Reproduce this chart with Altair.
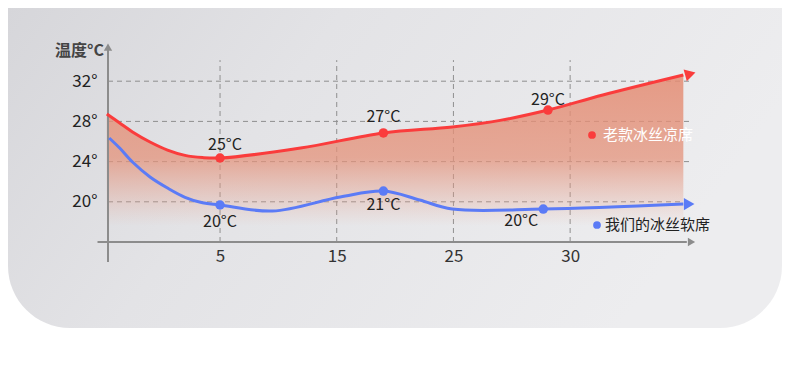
import json
import altair as alt
import pandas as pd

# ---------------- data ----------------
red_x = [0.03, 0.14, 0.25, 0.40, 0.55, 0.70, 0.85, 1.00, 1.69, 2.40, 2.99, 3.40, 3.81, 4.28, 4.97]
red_y = [28.74, 27.84, 26.95, 25.95, 25.15, 24.62, 24.40, 24.36, 25.35, 26.85, 27.44, 28.10, 29.13, 30.63, 32.62]
blue_x = [0.05, 0.14, 0.25, 0.40, 0.55, 0.70, 0.85, 1.00, 1.45, 2.03, 2.40, 2.71, 2.99, 3.77, 4.97]
blue_y = [26.35, 25.35, 23.96, 22.47, 21.37, 20.45, 19.90, 19.68, 19.08, 20.48, 21.07, 20.18, 19.28, 19.28, 19.78]
red_mark_x = [1.00, 2.40, 3.81]
red_mark_y = [24.36, 26.85, 29.13]
red_mark_text = ["25°C", "27°C", "29°C"]
blue_mark_x = [1.00, 2.40, 3.77]
blue_mark_y = [19.68, 21.07, 19.28]
blue_mark_text = ["20°C", "21°C", "20°C"]
x_tick_pos = [1, 2, 3, 4]
x_tick_labels = ["5", "15", "25", "30"]
y_ticks = [20, 24, 28, 32]
series_names = ["老款冰丝凉席", "我们的冰丝软席"]
y_title = "温度°C"

# ---------------- style ----------------
RED = "#fa3c3c"
BLUE = "#5b7bf6"
GRAY = "#8c8c8c"
FONT = "Noto Sans CJK SC"
TXT = "#222222"
INTERP = "catmull-rom"

red_df = pd.DataFrame({"x": red_x, "y": red_y})
blue_df = pd.DataFrame({"x": blue_x, "y": blue_y})
red_pts = pd.DataFrame({"x": red_mark_x, "y": red_mark_y, "t": red_mark_text})
blue_pts = pd.DataFrame({"x": blue_mark_x, "y": blue_mark_y, "t": blue_mark_text})
one = pd.DataFrame({"a": [0]})

xs = alt.Scale(domain=[0.04, 5.07], nice=False, zero=False)
ys = alt.Scale(domain=[16, 36], nice=False, zero=False)

x_axis = alt.Axis(
    values=x_tick_pos,
    labelExpr=json.dumps([""] + x_tick_labels).replace('"', "'") + "[datum.value]",
    domain=False, ticks=False, grid=False, title=None, zindex=5,
    labelFont=FONT, labelFontSize=17, labelColor="#333333", labelPadding=6,
)
y_axis = alt.Axis(
    values=y_ticks,
    labelExpr="datum.value + '°'",
    domain=False, ticks=False, grid=False, zindex=5,
    labelFont=FONT, labelFontSize=17, labelColor=TXT, labelPadding=11,
    title=y_title, titleAngle=0, titleX=-29, titleY=9, titleAlign="center",
    titleBaseline="middle", titleFont=FONT, titleFontSize=16, titleFontWeight="bold",
    titleColor="#444444",
)
X = lambda f="x": alt.X(f"{f}:Q", scale=xs, axis=x_axis)
Y = lambda f="y": alt.Y(f"{f}:Q", scale=ys, axis=y_axis)
XD = lambda v: alt.XDatum(v, scale=xs, axis=x_axis)
YD = lambda v: alt.YDatum(v, scale=ys, axis=y_axis)

# background card
bg = alt.Chart(one).mark_rect(
    cornerRadiusBottomLeft=62, cornerRadiusBottomRight=62,
    color=alt.LinearGradient(
        gradient="linear", x1=0, y1=0, x2=1, y2=0.3,
        stops=[alt.GradientStop(color="#d6d6da", offset=0),
               alt.GradientStop(color="#e3e3e6", offset=0.4),
               alt.GradientStop(color="#ededef", offset=1)]),
).encode(x=alt.value(-100), x2=alt.value(674), y=alt.value(-33), y2=alt.value(287))

# grid
hgrid = alt.Chart(pd.DataFrame({"y": y_ticks})).mark_rule(
    color="#8f8f8f", strokeDash=[5, 4], strokeWidth=1
).encode(x=XD(0.04), x2=alt.datum(5.03), y=Y())
vgrid = alt.Chart(pd.DataFrame({"x": x_tick_pos})).mark_rule(
    color="#8f8f8f", strokeDash=[5, 4], strokeWidth=1
).encode(x=X(), y=YD(16), y2=alt.datum(34.1))

# axes lines + arrows
yaxis_line = alt.Chart(one).mark_rule(color=GRAY, strokeWidth=2).encode(
    x=XD(0.04), y=YD(14.0), y2=alt.datum(35.2))
xaxis_line = alt.Chart(one).mark_rule(color=GRAY, strokeWidth=2).encode(
    x=XD(-0.05), x2=alt.datum(5.0), y=YD(16))
yarrow = alt.Chart(one).mark_point(shape="triangle-up", filled=True, color=GRAY, size=70, opacity=1).encode(
    x=XD(0.04), y=YD(35.4))
xarrow = alt.Chart(one).mark_point(shape="triangle-right", filled=True, color=GRAY, size=70, opacity=1).encode(
    x=XD(5.04), y=YD(16))

# band fill
band = alt.Chart(red_df).mark_area(
    interpolate=INTERP,
    color=alt.LinearGradient(
        gradient="linear", x1=0, y1=0, x2=0, y2=1,
        stops=[alt.GradientStop(color="rgba(228,140,115,0.85)", offset=0),
               alt.GradientStop(color="rgba(228,146,122,0.74)", offset=0.55),
               alt.GradientStop(color="rgba(230,160,140,0.0)", offset=1)]),
).encode(x=X(), y=Y(), y2=alt.datum(17.6))

red_line = alt.Chart(red_df).mark_line(interpolate=INTERP, color=RED, strokeWidth=3).encode(x=X(), y=Y())
blue_line = alt.Chart(blue_df).mark_line(interpolate=INTERP, color=BLUE, strokeWidth=3).encode(x=X(), y=Y())

red_arrow = alt.Chart(one).mark_point(shape="triangle-right", filled=True, color=RED, size=150,
                                      angle=345, opacity=1).encode(x=XD(5.03), y=YD(32.72))
blue_arrow = alt.Chart(one).mark_point(shape="triangle-right", filled=True, color=BLUE, size=150,
                                       opacity=1).encode(x=XD(5.02), y=YD(19.78))

red_dots = alt.Chart(red_pts).mark_circle(color=RED, size=90, opacity=1).encode(x=X(), y=Y())
blue_dots = alt.Chart(blue_pts).mark_circle(color=BLUE, size=90, opacity=1).encode(x=X(), y=Y())

red_offsets = [(5, -13), (0, -16), (0, -10)]
blue_offsets = [(0, 17), (0, 14), (-22, 12)]
labels = []
for df, offs in ((red_pts, red_offsets), (blue_pts, blue_offsets)):
    for i, (dx, dy) in enumerate(offs):
        labels.append(
            alt.Chart(df.iloc[[i]]).mark_text(
                dx=dx, dy=dy, font=FONT, fontSize=16, color=TXT, baseline="middle", align="center"
            ).encode(x=X(), y=Y(), text="t:N")
        )

# legend
leg_red_dot = alt.Chart(one).mark_circle(color=RED, size=60, opacity=1).encode(
    x=alt.value(484), y=alt.value(94))
leg_red_txt = alt.Chart(pd.DataFrame({"t": [series_names[0]]})).mark_text(
    font=FONT, fontSize=15, color="white", align="left", baseline="middle").encode(
    x=alt.value(495), y=alt.value(94), text="t:N")
leg_blue_dot = alt.Chart(one).mark_circle(color=BLUE, size=60, opacity=1).encode(
    x=alt.value(489), y=alt.value(184))
leg_blue_txt = alt.Chart(pd.DataFrame({"t": [series_names[1]]})).mark_text(
    font=FONT, fontSize=15, color=TXT, align="left", baseline="middle").encode(
    x=alt.value(497), y=alt.value(184), text="t:N")

chart = alt.layer(
    bg, hgrid, vgrid, band, yaxis_line, xaxis_line, yarrow, xarrow,
    red_line, blue_line, red_arrow, blue_arrow, red_dots, blue_dots, *labels,
    leg_red_dot, leg_red_txt, leg_blue_dot, leg_blue_txt,
).properties(
    width=587, height=201,
    padding={"left": 100, "top": 33, "right": 87, "bottom": 120},
    autosize=alt.AutoSizeParams(type="none"),
    background="white",
).configure_view(strokeWidth=0)

chart.save("out.html", embed_options={"renderer": "svg", "actions": False})
